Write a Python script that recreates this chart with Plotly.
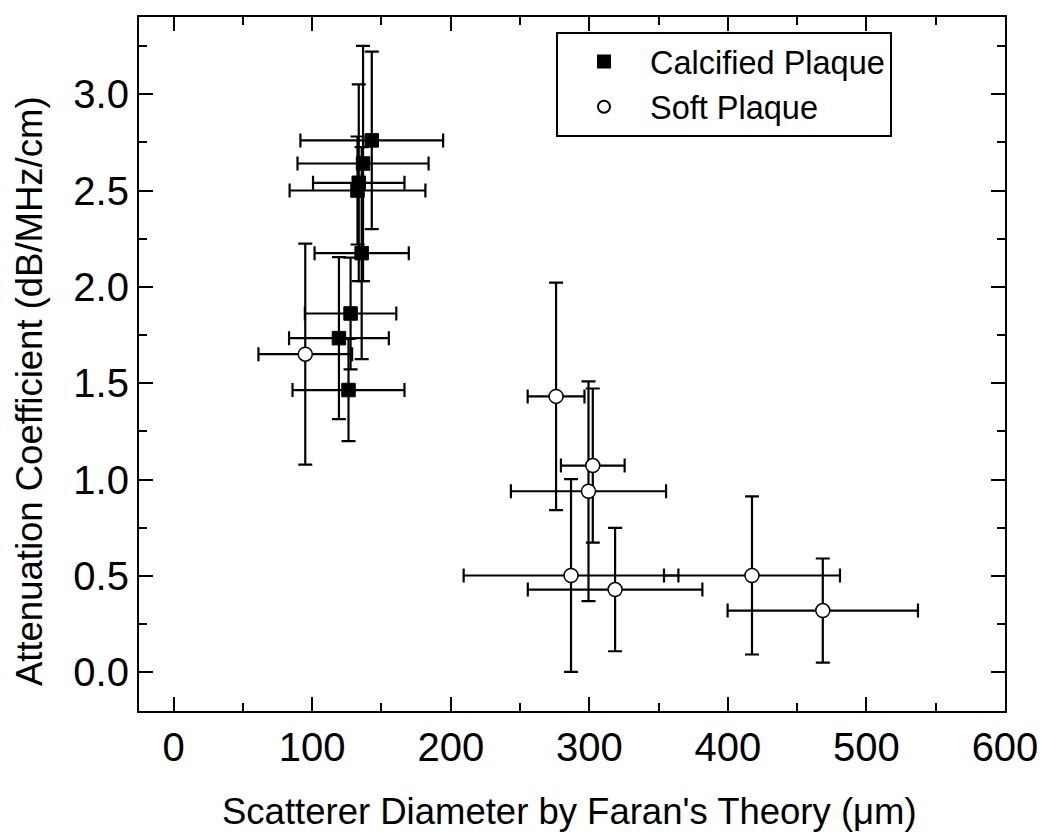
import plotly.graph_objects as go

# Calcified plaque (filled squares)
calc_x = [143, 136.7, 133.6, 132.7, 135.7, 127.7, 119.3, 126.2]
calc_y = [2.76, 2.64, 2.54, 2.50, 2.175, 1.862, 1.734, 1.465]
calc_xerr = [51.5, 47.3, 33.0, 49.0, 34.0, 33.0, 36.0, 40.4]
calc_yerr = [0.46, 0.61, 0.51, 0.28, 0.55, 0.29, 0.42, 0.265]

# Soft plaque (open circles)
soft_x = [95.0, 276.0, 302.5, 299.4, 286.8, 318.6, 417.4, 468.5]
soft_y = [1.651, 1.432, 1.073, 0.94, 0.503, 0.43, 0.503, 0.321]
soft_xerr = [33.8, 20.5, 23.0, 56.0, 77.5, 63.0, 63.5, 68.7]
soft_yerr = [0.573, 0.59, 0.40, 0.57, 0.50, 0.32, 0.41, 0.27]

x_ticks = [0, 100, 200, 300, 400, 500, 600]
y_ticks = [0.0, 0.5, 1.0, 1.5, 2.0, 2.5, 3.0]
y_tick_labels = ["0.0", "0.5", "1.0", "1.5", "2.0", "2.5", "3.0"]

x_title = "Scatterer Diameter by Faran's Theory (μm)"
y_title = "Attenuation Coefficient (dB/MHz/cm)"

FONT = "Liberation Sans, Arial, Helvetica, sans-serif"

err_style = dict(type="data", symmetric=True, color="black", thickness=2.2, width=7)

fig = go.Figure()
fig.add_trace(go.Scatter(
    x=calc_x, y=calc_y, mode="markers", name="Calcified Plaque",
    marker=dict(symbol="square", size=13.5, color="black", line=dict(color="black", width=1)),
    error_x=dict(array=calc_xerr, **err_style),
    error_y=dict(array=calc_yerr, **err_style),
))
fig.add_trace(go.Scatter(
    x=soft_x, y=soft_y, mode="markers", name="Soft Plaque",
    marker=dict(symbol="circle", size=14, color="white", line=dict(color="black", width=1.5)),
    error_x=dict(array=soft_xerr, **err_style),
    error_y=dict(array=soft_yerr, **err_style),
))

axis_common = dict(
    showline=True, linecolor="black", linewidth=2.2, mirror="allticks",
    ticks="inside", ticklen=14, tickwidth=2.2, tickcolor="black",
    showgrid=False, zeroline=False,
    tickfont=dict(family=FONT, size=40, color="black"),
)

fig.update_xaxes(
    range=[-25, 600], tickvals=x_ticks,
    minor=dict(dtick=50, ticks="inside", ticklen=8, tickwidth=2.2, tickcolor="black", showgrid=False),
    **axis_common,
)
fig.update_yaxes(
    range=[-0.2, 3.4], tickvals=y_ticks, ticktext=y_tick_labels,
    minor=dict(dtick=0.25, ticks="inside", ticklen=8, tickwidth=2.2, tickcolor="black", showgrid=False),
    **axis_common,
)

fig.add_annotation(
    text=x_title, xref="paper", yref="paper", x=0.497, y=-0.145,
    xanchor="center", yanchor="middle", showarrow=False,
    font=dict(family=FONT, size=36.5, color="black"),
)
fig.add_annotation(
    text=y_title, xref="paper", yref="paper", x=-0.127, y=0.461,
    xanchor="center", yanchor="middle", showarrow=False, textangle=-90,
    font=dict(family=FONT, size=36.5, color="black"),
)

fig.update_layout(
    width=1050, height=840,
    margin=dict(l=131, r=53, t=7, b=137),
    paper_bgcolor="white", plot_bgcolor="white",
    showlegend=True,
    legend=dict(
        x=0.4815, y=0.9785, xanchor="left", yanchor="top",
        bgcolor="white", bordercolor="black", borderwidth=2,
        font=dict(family=FONT, size=32.5, color="black"),
        itemsizing="constant", itemwidth=82, tracegroupgap=0,
        entrywidth=330, entrywidthmode="pixels",
    ),
)

fig.write_html("out.html")
